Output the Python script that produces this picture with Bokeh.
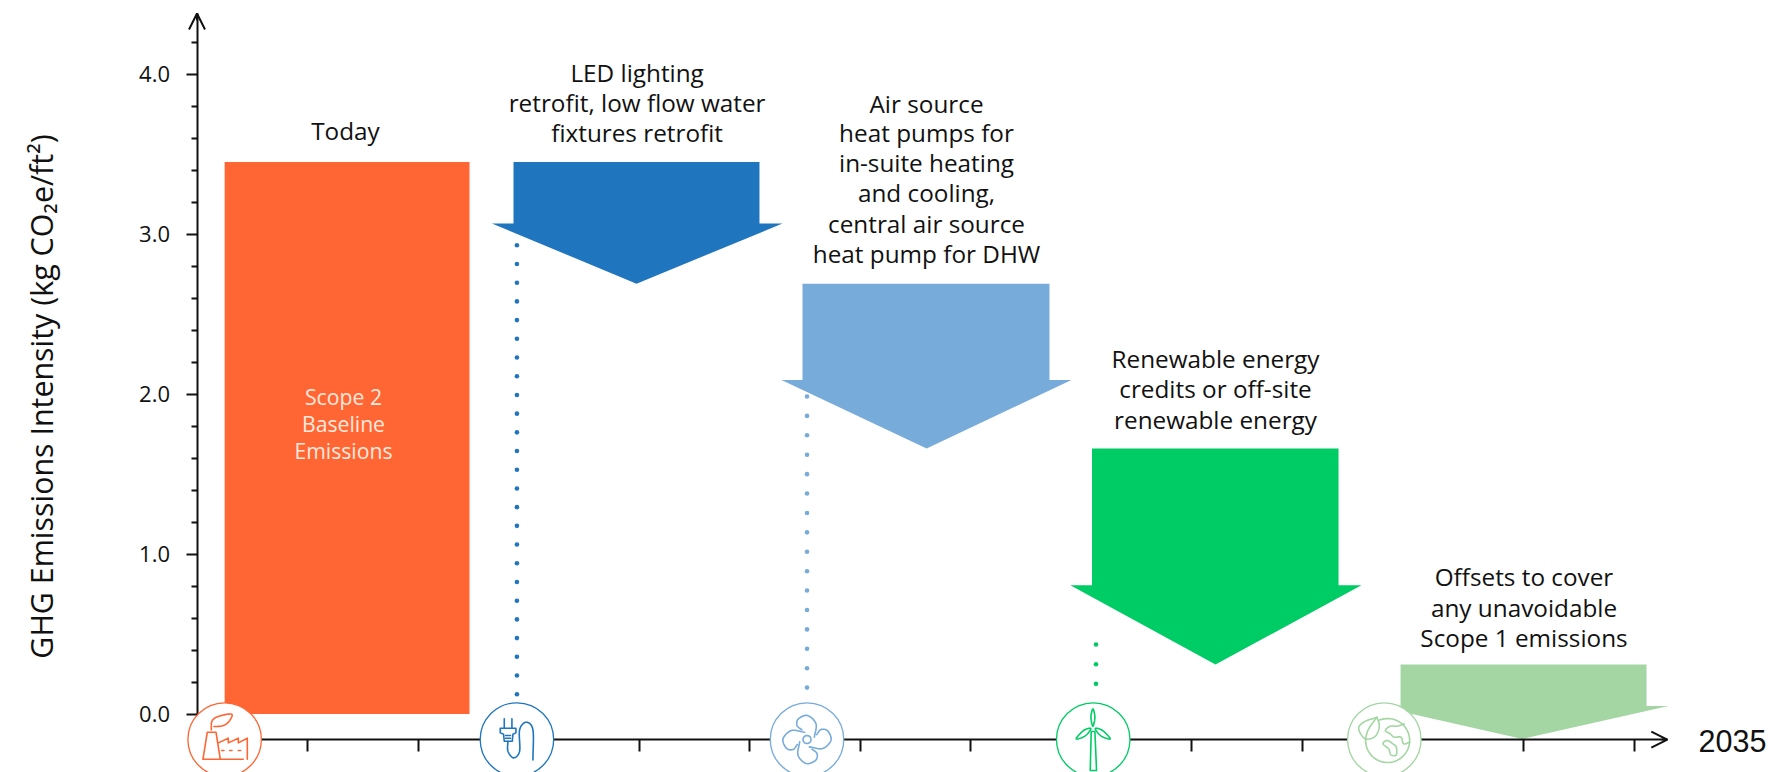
import numpy as np
from bokeh.core.properties import value
from bokeh.embed import file_html
from bokeh.models import Arrow, FixedTicker, OpenHead, PrintfTickFormatter, Range1d
from bokeh.plotting import figure
from bokeh.resources import INLINE

# Emissions pathway, kg CO2e/ft2, with horizontal positions in years
baseline_value = 3.45
baseline_span = [2022.25, 2024.465]
step_names = ["Efficiency", "Electrification", "Renewables", "Offsets"]
step_top = [3.45, 2.69, 1.66, 0.31]
step_shoulder = [3.066, 2.088, 0.805, 0.05]
step_tip = [2.69, 1.66, 0.31, -0.155]
step_left = [2024.863, 2027.477, 2030.096, 2032.887]
step_right = [2027.088, 2029.711, 2032.326, 2035.112]
wing_left = [2024.668, 2027.287, 2029.9, 2032.67]
wing_right = [2027.296, 2029.91, 2032.533, 2035.31]
step_centre = [2025.976, 2028.6, 2031.213, 2033.99]
milestones = [2022.25, 2024.894, 2027.518, 2030.107, 2032.74]
y_ticks = [0.0, 1.0, 2.0, 3.0, 4.0]
x_ticks = list(range(2023, 2036))

dot_start = [2.93, 1.985, 0.435]
dot_stop = [0.12, 0.16, 0.18]
dot_step = [0.1169, 0.1213, 0.123]
dot_year = [2024.894, 2027.518, 2030.132]

ORANGE, BLUE, SKY, GREEN, MINT = "#FF6633", "#1F75BE", "#77ABD9", "#00CC66", "#A3D6A3"
step_colors = [BLUE, SKY, GREEN, MINT]
milestone_colors = [ORANGE, BLUE, SKY, GREEN, MINT]
INK = "#111111"
FONT = "Open Sans"

PX_PER_YEAR, PX_PER_UNIT = 110.55, 160.0
ORIGIN_X, ORIGIN_Y = 196.5, 713.6
AXIS_Y = -0.159


def year_at(px):
    return 2022 + (px - ORIGIN_X) / PX_PER_YEAR


def level_at(py):
    return (ORIGIN_Y - py) / PX_PER_UNIT


p = figure(
    width=1792, height=772, output_backend="svg", toolbar_location=None,
    x_range=Range1d(year_at(0), year_at(1792)),
    y_range=Range1d(level_at(772), level_at(0)),
    min_border=0, outline_line_color=None, background_fill_color="white",
)
p.grid.visible = False

# Baseline block and the four reduction arrows
p.quad(left=[baseline_span[0]], right=[baseline_span[1]], bottom=[0], top=[baseline_value],
       fill_color=ORANGE, line_color=None)
for i in range(len(step_names)):
    p.patch(
        [step_left[i], step_right[i], step_right[i], wing_right[i], step_centre[i],
         wing_left[i], step_left[i]],
        [step_top[i], step_top[i], step_shoulder[i], step_shoulder[i], step_tip[i],
         step_shoulder[i], step_shoulder[i]],
        fill_color=step_colors[i], line_color=None,
    )

# Dotted leaders running down to each milestone
for yr, start, stop, step, col in zip(dot_year, dot_start, dot_stop, dot_step, step_colors):
    ys = np.arange(start, stop, -step)
    p.scatter([yr] * len(ys), ys, marker="circle", size=4.6, fill_color=col, line_color=None)

# Axes sit inside the frame, pinned to the two origins
yax, xax = p.yaxis[0], p.xaxis[0]
yax.fixed_location = 2022
xax.fixed_location = AXIS_Y
yax.bounds = (AXIS_Y, level_at(13))
xax.bounds = (2022, 2035.3)
yax.ticker = FixedTicker(ticks=y_ticks,
                         minor_ticks=[round(v * 0.2, 1) for v in range(0, 22) if v % 5])
xax.ticker = FixedTicker(ticks=x_ticks)
yax.formatter = PrintfTickFormatter(format="%.1f")
xax.major_label_text_font_size = "0px"
xax.major_label_text_color = None
for ax in (xax, yax):
    ax.axis_line_color = INK
    ax.axis_line_width = 2
    ax.major_tick_line_color = INK
    ax.major_tick_line_width = 2
    ax.minor_tick_line_color = INK
    ax.minor_tick_line_width = 2
    ax.major_tick_in = 0
    ax.minor_tick_in = 0
xax.major_tick_out = 12
xax.minor_tick_out = 0
yax.major_tick_out = 11
yax.minor_tick_out = 6
yax.major_label_standoff = 16
yax.major_label_text_font = FONT
yax.major_label_text_font_size = "22px"
yax.major_label_text_color = INK

head = dict(size=16, line_color=INK, line_width=2)
p.add_layout(Arrow(end=OpenHead(**head), x_start=2035.25, y_start=AXIS_Y, x_end=2035.3,
                   y_end=AXIS_Y, line_color=INK, line_width=2))
p.add_layout(Arrow(end=OpenHead(**head), x_start=2022, y_start=level_at(20), x_end=2022,
                   y_end=level_at(13), line_color=INK, line_width=2))


def label(x, py, text, size="24.3px", color=INK, font=FONT, align="center", angle=0.0):
    p.text([x], [level_at(py)], text=[text], text_font=value(font), text_font_size=size,
           text_color=color, text_align=align, text_baseline="middle", angle=angle)


annotations = [
    (year_at(345), [(130, "Today")]),
    (year_at(636.6), [(72, "LED lighting"), (102, "retrofit, low flow water"),
                      (132, "fixtures retrofit")]),
    (year_at(926), [(103, "Air source"), (132, "heat pumps for"), (162, "in-suite heating"),
                    (192, "and cooling,"), (223, "central air source"),
                    (253, "heat pump for DHW")]),
    (year_at(1215), [(358, "Renewable energy"), (388, "credits or off-site"),
                     (418.5, "renewable energy")]),
    (year_at(1523.5), [(576, "Offsets to cover"), (607, "any unavoidable"),
                       (637, "Scope 1 emissions")]),
]
for x, rows in annotations:
    for py, text in rows:
        label(x, py, text)

for py, text in [(396, "Scope 2"), (422.5, "Baseline"), (449.5, "Emissions")]:
    label(year_at(343), py, text, size="21.2px", color="#FFE9DF")

label(year_at(41), 396, "GHG Emissions Intensity (kg CO₂e/ft²)", size="30.4px", angle=np.pi / 2)
label(year_at(1698), 740, "2035", size="30.5px", font="Liberation Sans", align="left")


# Milestone badges: white discs with a line icon, drawn over the axis
def smooth(points, closed=False, n=10):
    pts = np.asarray(points, dtype=float)
    if closed:
        pts = np.vstack([pts[-1], pts, pts[0], pts[1]])
    else:
        pts = np.vstack([2 * pts[0] - pts[1], pts, 2 * pts[-1] - pts[-2]])
    out = []
    for a, b, c, d in zip(pts[:-3], pts[1:-2], pts[2:-1], pts[3:]):
        for t in np.linspace(0, 1, n, endpoint=False):
            out.append(0.5 * (2 * b + (c - a) * t + (2 * a - 5 * b + 4 * c - d) * t ** 2
                              + (3 * b - a - 3 * c + d) * t ** 3))
    out.append(pts[-2])
    return out


def stroke(idx, cx, cy, points, scale=3.0, width=1.6):
    pts = np.asarray(points, dtype=float)
    xs = year_at(px_c[idx]) + (pts[:, 0] - cx) / scale / PX_PER_YEAR
    ys = AXIS_Y - (pts[:, 1] - cy) / scale / PX_PER_UNIT
    p.line(xs, ys, line_color=milestone_colors[idx], line_width=width, level="annotation",
           line_join="round", line_cap="round")


px_c = [ORIGIN_X + (m - 2022) * PX_PER_YEAR for m in milestones]
p.scatter(milestones, [AXIS_Y] * len(milestones), marker="circle", size=73.5, fill_color="white",
          line_color=milestone_colors, line_width=1.3, level="annotation")

# Factory with a leaf
fc = (162, 177)
for shape in (
    [(97, 236), (110, 155), (136, 155), (149, 236), (218, 236)],
    [(97, 236), (149, 236)],
    [(143, 187), (173, 173), (173, 187), (203, 173), (203, 187), (230, 173), (230, 236)],
    [(153, 210), (160, 210)], [(177, 210), (184, 210)], [(203, 210), (210, 210)],
):
    stroke(0, *fc, shape)
stroke(0, *fc, smooth([(122, 148), (124, 122), (142, 108), (183, 101), (174, 124), (155, 136), (130, 138)]))

# Plug and cord
pc = (1040, 177)
for shape in (
    [(1002, 115), (1002, 143)], [(1025, 115), (1025, 143)],
    [(990, 143), (1037, 143), (1037, 157), (1028, 161), (1026, 182), (1002, 182), (1000, 161),
     (990, 157), (990, 143)],
    [(1006, 165), (1021, 165)], [(1006, 173), (1021, 173)],
):
    stroke(1, *pc, shape)
stroke(1, *pc, smooth([(1013, 182), (1013, 212), (1030, 232), (1048, 212), (1048, 148),
                       (1068, 125), (1088, 148), (1088, 238)]))

# Fan: one blade outline repeated at quarter turns about the hub
blade = np.array([(22, -7), (27, -47), (2, -72), (-26, -62), (-30, -42), (-15, -29)], dtype=float)
for k in range(4):
    stroke(2, 0, 0, smooth(blade))
    blade = np.column_stack([-blade[:, 1], blade[:, 0]])
theta = np.linspace(0, 2 * np.pi, 30)
stroke(2, 0, 0, np.column_stack([12 * np.cos(theta), 12 * np.sin(theta)]))

# Wind turbine
tc = (129, 132)
stroke(3, *tc, [(123, 108), (134, 108), (139, 225), (120, 225), (123, 108)])
for lens in (
    [(128, 92), (122, 65), (128, 40), (134, 65)],
    [(122, 99), (100, 105), (78, 130), (105, 121)],
    [(135, 99), (157, 105), (180, 130), (152, 121)],
):
    stroke(3, *tc, smooth(lens, closed=True))

# Globe with a leaf
gc = (132, 132)
arc = np.linspace(-1.95, 3.25, 50)
stroke(4, *gc, np.column_stack([142 + 66 * np.cos(arc), 135 + 66 * np.sin(arc)]))
stroke(4, *gc, smooth([(110, 65), (117, 92), (105, 122), (75, 130), (55, 100), (70, 80), (110, 65)]))
stroke(4, *gc, smooth([(75, 130), (85, 100), (110, 65)]))
stroke(4, *gc, smooth([(192, 85), (170, 92), (150, 92), (135, 105), (150, 115), (162, 125),
                       (182, 125), (190, 145), (208, 140)]))
stroke(4, *gc, smooth([(128, 145), (140, 135), (158, 145), (168, 155), (168, 178), (152, 178),
                       (145, 160)], closed=True))

open("out.html", "w").write(file_html(p, INLINE))
